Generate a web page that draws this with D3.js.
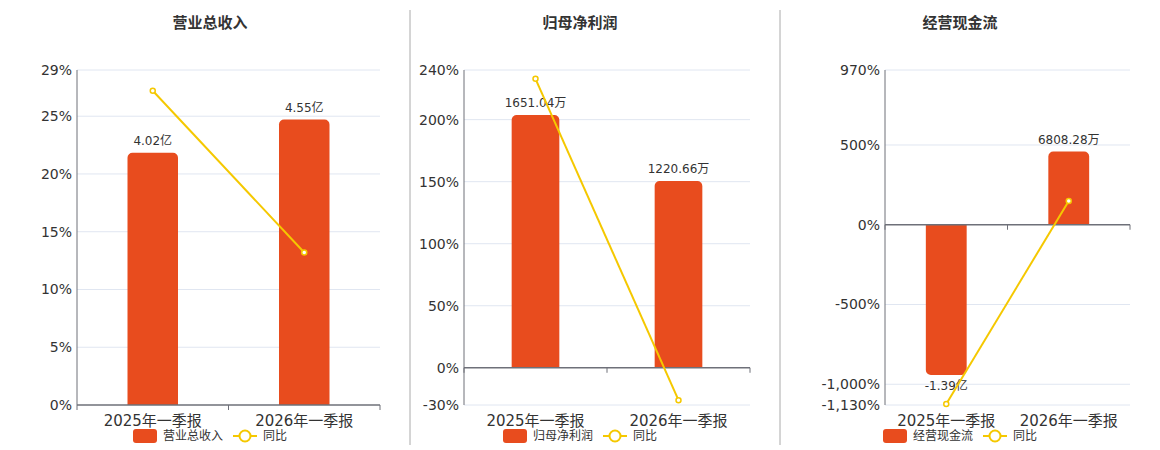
<!DOCTYPE html>
<html>
<head>
<meta charset="utf-8">
<script src="https://cdn.jsdelivr.net/npm/d3@7"></script>
<style>
  body { margin: 0; background: #fff; }
  svg { font-family: "DejaVu Sans", "Noto Sans CJK SC", sans-serif; }
  .grid line { stroke: #e0e6f1; }
  .tick-label { fill: #333; font-size: 14px; }
  .x-label { fill: #333; font-size: 15px; }
  .bar-label { fill: #333; font-size: 12px; }
  .legend-text { fill: #333; font-size: 12px; }
  .title { fill: #333; font-size: 15px; font-weight: bold; }
</style>
</head>
<body>
<div id="chart"></div>
<script>
const periods = ["2025年一季报", "2026年一季报"];
const titles = ["营业总收入", "归母净利润", "经营现金流"];

const revenue = [4.02, 4.55];
const revenueLabels = ["4.02亿", "4.55亿"];
const revenueYoY = [27.2, 13.2];
const revenueTicks = [0, 5, 10, 15, 20, 25, 29];
const revenueBarDomain = [0, 5.34];

const profit = [1651.04, 1220.66];
const profitLabels = ["1651.04万", "1220.66万"];
const profitYoY = [232.9, -26.1];
const profitTicks = [-30, 0, 50, 100, 150, 200, 240];
const profitBarDomain = [-241, 1945];

const cashflow = [-13900, 6808.28];
const cashflowLabels = ["-1.39亿", "6808.28万"];
const cashflowYoY = [-1124, 149];
const cashflowTicks = [-1130, -1000, -500, 0, 500, 970];
const cashflowBarDomain = [-16680, 14364];

const width = 1160;
const height = 450;
const barColor = "#e84c1e";
const lineColor = "#f5c800";
const axisColor = "#6e7079";
const plotTop = 70;
const plotBottom = 405;

const panels = [
  { title: titles[0], values: revenue, labels: revenueLabels, yoy: revenueYoY,
    ticks: revenueTicks, barDomain: revenueBarDomain, left: 77, right: 380,
    titleX: 210, legendX: 133 },
  { title: titles[1], values: profit, labels: profitLabels, yoy: profitYoY,
    ticks: profitTicks, barDomain: profitBarDomain, left: 464, right: 750,
    titleX: 580, legendX: 503 },
  { title: titles[2], values: cashflow, labels: cashflowLabels, yoy: cashflowYoY,
    ticks: cashflowTicks, barDomain: cashflowBarDomain, left: 885, right: 1130,
    titleX: 960, legendX: 883 },
];

const svg = d3.select("#chart").append("svg")
  .attr("width", width)
  .attr("height", height);

// panel dividers
svg.selectAll(".divider")
  .data([410, 780])
  .join("line")
  .attr("x1", (d) => d).attr("x2", (d) => d)
  .attr("y1", 10).attr("y2", 445)
  .attr("stroke", "#aaa");

const locale = d3.formatLocale({
  decimal: ".", thousands: ",", grouping: [3], currency: ["", ""], minus: "-",
});
const fmtPct = (d) => locale.format(",")(d) + "%";

panels.forEach(drawPanel);

function roundedBar(x, y0, y1, w, r) {
  // rounded on the end away from zero
  const p = d3.path();
  if (y1 < y0) {
    r = Math.min(r, (y0 - y1) / 2);
    p.moveTo(x, y0);
    p.lineTo(x, y1 + r);
    p.arcTo(x, y1, x + r, y1, r);
    p.lineTo(x + w - r, y1);
    p.arcTo(x + w, y1, x + w, y1 + r, r);
    p.lineTo(x + w, y0);
  } else {
    r = Math.min(r, (y1 - y0) / 2);
    p.moveTo(x, y0);
    p.lineTo(x, y1 - r);
    p.arcTo(x, y1, x + r, y1, r);
    p.lineTo(x + w - r, y1);
    p.arcTo(x + w, y1, x + w, y1 - r, r);
    p.lineTo(x + w, y0);
  }
  p.closePath();
  return p.toString();
}

function drawPanel(cfg) {
  const g = svg.append("g");

  const x = d3.scaleBand().domain(periods).range([cfg.left, cfg.right]);
  const y = d3.scaleLinear()
    .domain(d3.extent(cfg.ticks))
    .range([plotBottom, plotTop]);
  const yBar = d3.scaleLinear().domain(cfg.barDomain).range([plotBottom, plotTop]);
  const y0 = y(0);

  g.append("text")
    .attr("class", "title")
    .attr("x", cfg.titleX)
    .attr("y", 28)
    .attr("text-anchor", "middle")
    .text(cfg.title);

  // grid
  g.append("g").attr("class", "grid")
    .selectAll("line")
    .data(cfg.ticks.filter((d) => d !== 0))
    .join("line")
    .attr("x1", cfg.left).attr("x2", cfg.right)
    .attr("y1", (d) => y(d)).attr("y2", (d) => y(d));

  g.selectAll(".tick-label")
    .data(cfg.ticks)
    .join("text")
    .attr("class", "tick-label")
    .attr("x", cfg.left - 5)
    .attr("y", (d) => y(d))
    .attr("dy", "0.35em")
    .attr("text-anchor", "end")
    .text(fmtPct);

  // bars
  const bw = x.bandwidth() / 3;
  g.selectAll(".bar")
    .data(cfg.values)
    .join("path")
    .attr("class", "bar")
    .attr("fill", barColor)
    .attr("d", (d, i) =>
      roundedBar(x(periods[i]) + x.bandwidth() / 2 - bw / 2, y0, yBar(d), bw, 5));

  // axes
  g.append("line")
    .attr("x1", cfg.left).attr("x2", cfg.left)
    .attr("y1", plotTop).attr("y2", plotBottom)
    .attr("stroke", axisColor);
  g.append("line")
    .attr("x1", cfg.left).attr("x2", cfg.right)
    .attr("y1", y0).attr("y2", y0)
    .attr("stroke", axisColor).attr("stroke-width", 1.5);
  g.selectAll(".xtick")
    .data([cfg.left, ...periods.map((p) => x(p) + x.bandwidth())])
    .join("line")
    .attr("x1", (d) => d).attr("x2", (d) => d)
    .attr("y1", y0).attr("y2", y0 + 5)
    .attr("stroke", axisColor);

  g.selectAll(".x-label")
    .data(periods)
    .join("text")
    .attr("class", "x-label")
    .attr("x", (d) => x(d) + x.bandwidth() / 2)
    .attr("y", 426)
    .attr("text-anchor", "middle")
    .text((d) => d);

  g.selectAll(".bar-label")
    .data(cfg.values)
    .join("text")
    .attr("class", "bar-label")
    .attr("x", (d, i) => x(periods[i]) + x.bandwidth() / 2)
    .attr("y", (d) => (d >= 0 ? yBar(d) - 8 : yBar(d) + 15))
    .attr("text-anchor", "middle")
    .text((d, i) => cfg.labels[i]);

  // yoy line
  const line = d3.line()
    .x((d, i) => x(periods[i]) + x.bandwidth() / 2)
    .y((d) => y(d));
  g.append("path")
    .datum(cfg.yoy)
    .attr("fill", "none")
    .attr("stroke", lineColor)
    .attr("stroke-width", 2)
    .attr("d", line);
  g.selectAll(".dot")
    .data(cfg.yoy)
    .join("circle")
    .attr("cx", (d, i) => x(periods[i]) + x.bandwidth() / 2)
    .attr("cy", (d) => y(d))
    .attr("r", 2.5)
    .attr("fill", "#fff")
    .attr("stroke", lineColor)
    .attr("stroke-width", 1.5);

  // legend
  const lg = g.append("g").attr("transform", `translate(${cfg.legendX},436)`);
  lg.append("rect")
    .attr("x", 0).attr("y", -7)
    .attr("width", 24).attr("height", 14)
    .attr("rx", 3)
    .attr("fill", barColor);
  lg.append("text")
    .attr("class", "legend-text")
    .attr("x", 30).attr("dy", "0.35em")
    .text(cfg.title);
  lg.append("line")
    .attr("x1", 100).attr("x2", 124)
    .attr("stroke", lineColor).attr("stroke-width", 2);
  lg.append("circle")
    .attr("cx", 112).attr("r", 5.5)
    .attr("fill", "#fff")
    .attr("stroke", lineColor).attr("stroke-width", 2);
  lg.append("text")
    .attr("class", "legend-text")
    .attr("x", 130).attr("dy", "0.35em")
    .text("同比");
}
</script>
</body>
</html>
